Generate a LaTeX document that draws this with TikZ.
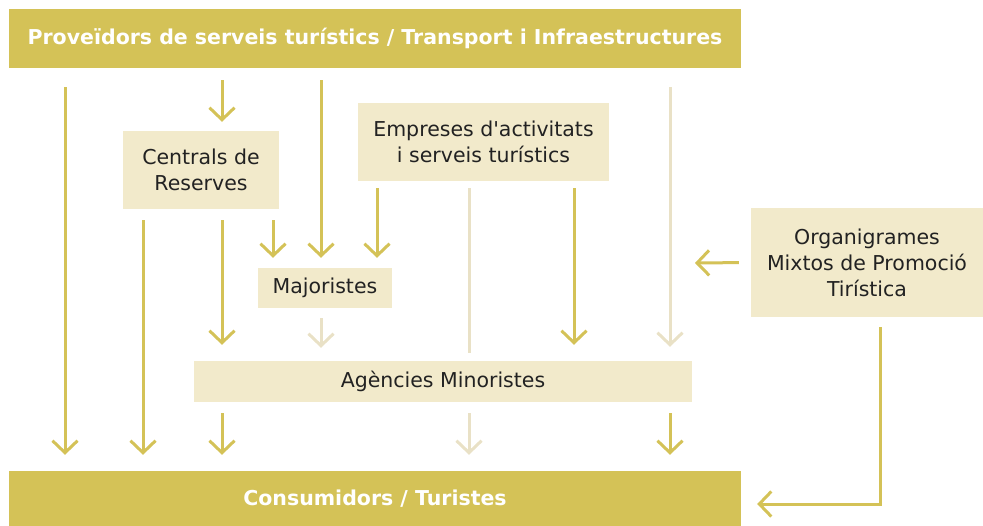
\documentclass[tikz,border=0pt]{standalone}
\usepackage{fontspec}
\setmainfont{DejaVu Sans}
\usetikzlibrary{positioning,arrows.meta}
\definecolor{gold}{HTML}{D4C257}
\definecolor{sand}{HTML}{F2EACB}
\definecolor{pale}{HTML}{E9E1C6}
\definecolor{ink}{HTML}{222222}
\tikzset{>={Straight Barb[length=12pt,width=25pt]}}
\tikzset{
  band/.style={fill=gold,text=white,font=\bfseries\fontsize{20.5}{24}\selectfont,inner sep=0pt,minimum width=732pt},
  actor/.style={fill=sand,text=ink,font=\fontsize{20.5}{26}\selectfont,inner sep=0pt,align=center},
  flow/.style={->,draw=gold,line width=3pt,shorten <=12pt,shorten >=12pt},
  faint/.style={flow,draw=pale}
}

\begin{document}
\begin{tikzpicture}[x=1pt,y=-1pt]
\useasboundingbox (0,0) rectangle (983,526);
% boxes
\node[band,minimum height=59pt] (top) at (375,38.5) {Proveïdors de serveis turístics / Transport i Infraestructures};
\node[band,minimum height=55pt] (bottom) at (375,498.5) {Consumidors / Turistes};
\node[actor,minimum width=156pt,minimum height=78pt] (centrals) at (201,170) {Centrals de\\Reserves};
\node[actor,minimum width=251pt,minimum height=78pt] (empreses) at (483.5,142) {Empreses d\textquotesingle activitats\\i serveis turístics};
\node[actor,minimum width=134pt,minimum height=40pt] (majoristes) at (325,288) {Majoristes};
\node[actor,minimum width=498pt,minimum height=41pt] (agencies) at (443,381.5) {Agències Minoristes};
\node[actor,minimum width=232pt,minimum height=109pt] (organ) at (867,262.5) {Organigrames\\Mixtos de Promoció\\Tirística};
% columns
\coordinate (c1) at (65,0);
\coordinate (c2) at (143,0);
\coordinate (c3) at (222,0);
\coordinate (c4) at (273,0);
\coordinate (c5) at (321,0);
\coordinate (c6) at (377,0);
\coordinate (c7) at (469,0);
\coordinate (c8) at (574,0);
\coordinate (c9) at (670,0);
\coordinate (inlet) at (695,263);
% flows
\draw[flow,shorten <=19pt,shorten >=16pt] (top.south -| c1) -- (bottom.north -| c1);
\draw[flow,shorten >=9pt] (top.south -| c3) -- (centrals.north -| c3);
\draw[flow,shorten >=10pt] (top.south -| c5) -- (majoristes.north -| c5);
\draw[faint,shorten <=19pt,shorten >=14pt] (top.south -| c9) -- (agencies.north -| c9);
\draw[flow,shorten <=11pt,shorten >=16pt] (centrals.south -| c2) -- (bottom.north -| c2);
\draw[flow,shorten <=11pt,shorten >=16pt] (centrals.south -| c3) -- (agencies.north -| c3);
\draw[flow,shorten <=11pt,shorten >=10pt] (centrals.south -| c4) -- (majoristes.north -| c4);
\draw[flow,shorten <=7pt,shorten >=10pt] (empreses.south -| c6) -- (majoristes.north -| c6);
\draw[faint,-,shorten <=7pt,shorten >=8pt] (empreses.south -| c7) -- (agencies.north -| c7);
\draw[flow,shorten <=7pt,shorten >=16pt] (empreses.south -| c8) -- (agencies.north -| c8);
\draw[faint,shorten <=10pt,shorten >=13pt] (majoristes.south -| c5) -- (agencies.north -| c5);
\draw[flow,shorten <=11pt,shorten >=16pt] (agencies.south -| c3) -- (bottom.north -| c3);
\draw[faint,shorten <=11pt,shorten >=16pt] (agencies.south -| c7) -- (bottom.north -| c7);
\draw[flow,shorten <=11pt,shorten >=16pt] (agencies.south -| c9) -- (bottom.north -| c9);
\draw[flow,shorten >=0pt] (organ.west) -- (inlet);
\draw[flow,shorten <=10pt,shorten >=16pt] ([xshift=13pt]organ.south) |- ([yshift=-5.5pt]bottom.east);
\end{tikzpicture}
\end{document}
